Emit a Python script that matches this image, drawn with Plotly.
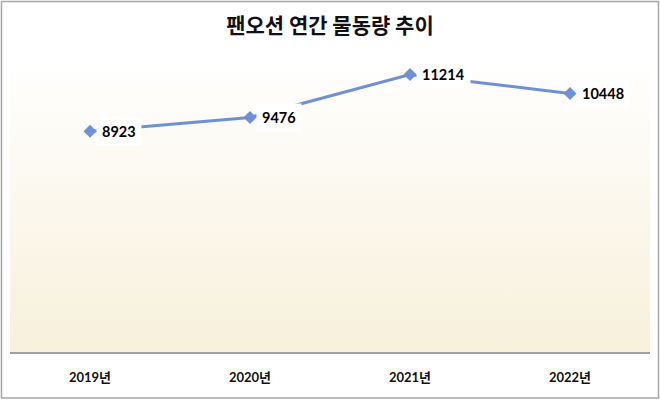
import plotly.graph_objects as go

years = ["2019년", "2020년", "2021년", "2022년"]
volumes = [8923, 9476, 11214, 10448]
title_text = "팬오션 연간 물동량 추이"

x_idx = list(range(len(years)))
LINE = "#6F8FD6"

fig = go.Figure()

# background gradient for the plot area
fig.add_trace(go.Scatter(
    x=[-0.5, len(years) - 0.5], y=[12000, 12000],
    mode="lines", line=dict(width=0), fill="tozeroy",
    fillgradient=dict(type="vertical",
                      colorscale=[[0, "#F7F0DB"], [1, "#FFFFFF"]]),
    hoverinfo="skip", showlegend=False,
))

fig.add_trace(go.Scatter(
    x=x_idx, y=volumes, mode="lines+markers",
    line=dict(color=LINE, width=3),
    marker=dict(symbol="diamond", size=10, color=LINE),
    showlegend=False,
))

for i, v in zip(x_idx, volumes):
    fig.add_annotation(
        x=i, y=v, xref="x", yref="y", text=f"<b>{v}</b>", showarrow=False,
        xanchor="left", yanchor="middle", xshift=6,
        bgcolor="white", borderpad=5,
        font=dict(family="Lato, Noto Sans CJK KR, sans-serif", size=14.5, color="#000000"),
    )

fig.update_layout(
    width=660, height=400,
    margin=dict(l=10, r=10, t=55, b=48),
    paper_bgcolor="white", plot_bgcolor="white",
    title=dict(text=f"<b>{title_text}</b>", x=0.5, xanchor="center", y=0.935, yanchor="middle",
               font=dict(family="Noto Sans CJK KR, sans-serif", size=21, color="#111111")),
    xaxis=dict(range=[-0.5, len(years) - 0.5], tickmode="array", tickvals=x_idx,
               ticktext=[f"<b>{y}</b>" for y in years], showgrid=False, zeroline=False,
               showline=True, linecolor="#A0A0A0", linewidth=1.5, ticks="",
               tickfont=dict(family="Lato, Noto Sans CJK KR, sans-serif", size=13, color="#111111"),
               ticklabelstandoff=13),
    yaxis=dict(range=[0, 12000], showgrid=False, zeroline=False, showticklabels=False,
               showline=False),
    shapes=[dict(type="rect", xref="paper", yref="paper",
                 x0=-0.0133, x1=1.0133, y0=-0.155, y1=1.18,
                 line=dict(color="#A6A6A6", width=1.5), fillcolor="rgba(0,0,0,0)")],
)

fig.write_html("out.html", config={"displayModeBar": False},
               post_script="document.body.style.margin='0';")
